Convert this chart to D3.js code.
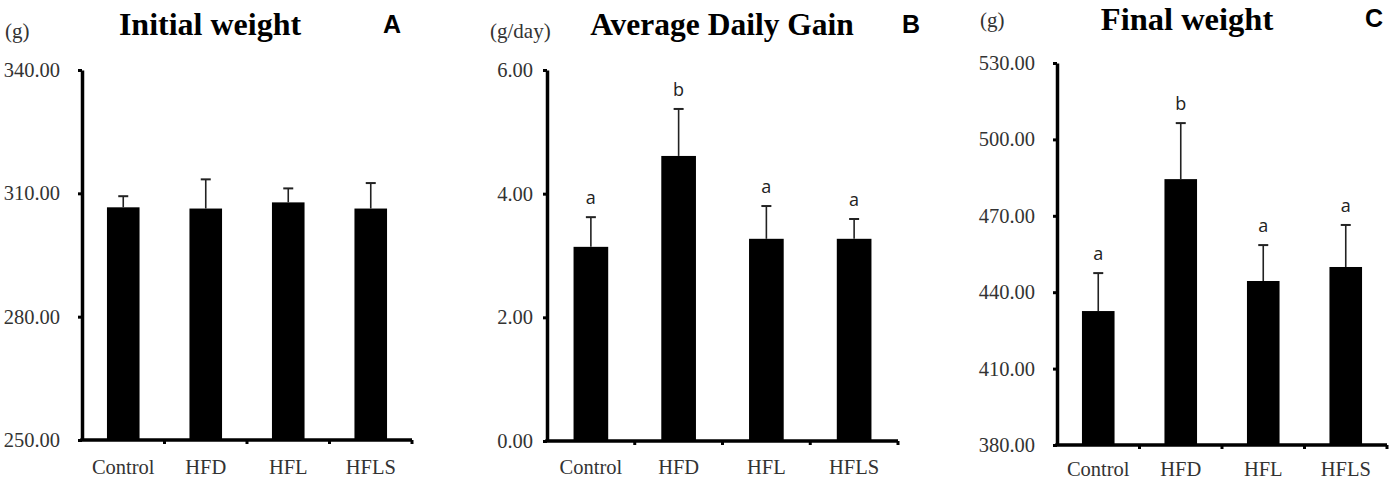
<!DOCTYPE html>
<html>
<head>
<meta charset="utf-8">
<script src="https://cdn.jsdelivr.net/npm/d3@7"></script>
<style>
	body { margin: 0; background: #fff; }
	svg { display: block; }
	.tick text { font-family: "Liberation Serif", "Times New Roman", serif; }
</style>
</head>
<body>
<div id="chart"></div>
<script>
// groups on the x axis
var categories = ["Control", "HFD", "HFL", "HFLS"];

// A: initial weight (g)
var initialMean = [306.6, 306.3, 307.8, 306.3];
var initialErr = [2.7, 7.1, 3.4, 6.2];
var initialTicks = [250, 280, 310, 340];
var initialLetters = ["", "", "", ""];

// B: average daily gain (g/day)
var adgMean = [3.14, 4.61, 3.27, 3.27];
var adgErr = [0.48, 0.76, 0.53, 0.32];
var adgTicks = [0, 2, 4, 6];
var adgLetters = ["a", "b", "a", "a"];

// C: final weight (g)
var finalMean = [432.6, 484.4, 444.4, 449.9];
var finalErr = [14.9, 22.0, 14.1, 16.5];
var finalTicks = [380, 410, 440, 470, 500, 530];
var finalLetters = ["a", "b", "a", "a"];

var width = 1395, height = 481;

var svg = d3.select("#chart").append("svg")
	.attr("width", width)
	.attr("height", height);

// one entry per panel; layout kept apart from the data
var panels = [
	{
		title: "Initial weight", unit: "(g)", tag: "A",
		mean: initialMean, err: initialErr, ticks: initialTicks, letters: initialLetters,
		x0: 82, x1: 412, y0: 70, y1: 440, pad: 22,
		titleX: 210, titleY: 35, titleSize: 32,
		unitX: 5, unitY: 38, tagX: 383, tagY: 33, catY: 473
	},
	{
		title: "Average Daily Gain", unit: "(g/day)", tag: "B",
		mean: adgMean, err: adgErr, ticks: adgTicks, letters: adgLetters,
		x0: 547, x1: 898, y0: 70, y1: 441, pad: 14,
		titleX: 722, titleY: 35, titleSize: 31.5,
		unitX: 490, unitY: 38, tagX: 902, tagY: 33, catY: 473
	},
	{
		title: "Final weight", unit: "(g)", tag: "C",
		mean: finalMean, err: finalErr, ticks: finalTicks, letters: finalLetters,
		x0: 1057, x1: 1387, y0: 63, y1: 445, pad: 22,
		titleX: 1187, titleY: 30, titleSize: 32.5,
		unitX: 980, unitY: 27, tagX: 1365, tagY: 27, catY: 475
	}
];

panels.forEach(drawPanel);

function drawPanel(p) {
	var g = svg.append("g");

	var x = d3.scaleBand()
		.domain(categories)
		.range([p.x0, p.x1])
		.padding(0);
	var y = d3.scaleLinear()
		.domain(d3.extent(p.ticks))
		.range([p.y1, p.y0]);

	var bw = x.bandwidth() * 0.395;
	var data = categories.map(function (c, i) {
		return { cat: c, mean: p.mean[i], err: p.err[i], letter: p.letters[i] };
	});

	// bars
	g.selectAll("rect.bar")
		.data(data).enter().append("rect")
		.attr("class", "bar")
		.attr("x", function (d) { return x(d.cat) + x.bandwidth() / 2 - bw / 2; })
		.attr("width", bw)
		.attr("y", function (d) { return y(d.mean); })
		.attr("height", function (d) { return y(y.domain()[0]) - y(d.mean); })
		.attr("fill", "#000");

	// error bars (upper only)
	var eb = g.selectAll("g.err")
		.data(data).enter().append("g")
		.attr("class", "err");
	eb.append("line")
		.attr("x1", function (d) { return x(d.cat) + x.bandwidth() / 2; })
		.attr("x2", function (d) { return x(d.cat) + x.bandwidth() / 2; })
		.attr("y1", function (d) { return y(d.mean); })
		.attr("y2", function (d) { return y(d.mean + d.err); })
		.attr("stroke", "#222")
		.attr("stroke-width", 1.6);
	eb.append("line")
		.attr("x1", function (d) { return x(d.cat) + x.bandwidth() / 2 - 5; })
		.attr("x2", function (d) { return x(d.cat) + x.bandwidth() / 2 + 5; })
		.attr("y1", function (d) { return y(d.mean + d.err); })
		.attr("y2", function (d) { return y(d.mean + d.err); })
		.attr("stroke", "#222")
		.attr("stroke-width", 2);

	// significance letters
	g.selectAll("text.sig")
		.data(data).enter().append("text")
		.attr("class", "sig")
		.attr("x", function (d) { return x(d.cat) + x.bandwidth() / 2; })
		.attr("y", function (d) { return y(d.mean + d.err) - 13; })
		.attr("text-anchor", "middle")
		.style("font-family", "'Open Sans', sans-serif")
		.style("font-size", "18px")
		.attr("fill", "#222")
		.text(function (d) { return d.letter; });

	// y axis
	var yAxis = g.append("g")
		.attr("transform", "translate(" + p.x0 + ",0)")
		.call(d3.axisLeft(y)
			.tickValues(p.ticks)
			.tickFormat(d3.format(".2f"))
			.tickSize(4)
			.tickSizeOuter(0)
			.tickPadding(p.pad - 4));
	yAxis.select(".domain").attr("stroke-width", 3.5);
	yAxis.selectAll(".tick line").attr("stroke-width", 3);
	yAxis.selectAll(".tick text")
		.attr("fill", "#333")
		.style("font-size", "20.5px");

	// x axis: labels at band centres, tick marks at band edges
	var xAxis = g.append("g")
		.attr("transform", "translate(0," + p.y1 + ")")
		.call(d3.axisBottom(x).tickSize(0).tickSizeOuter(0).tickPadding(p.catY - p.y1 - 14));
	xAxis.select(".domain")
		.attr("stroke-width", 3.5)
		.attr("d", "M" + (p.x0 - 1.75) + ",0H" + p.x1);
	xAxis.selectAll(".tick text")
		.attr("fill", "#333")
		.style("font-size", "20.5px");
	xAxis.selectAll("line.edge")
		.data(categories).enter().append("line")
		.attr("class", "edge")
		.attr("x1", function (c) { return x(c) + x.bandwidth(); })
		.attr("x2", function (c) { return x(c) + x.bandwidth(); })
		.attr("y1", 0)
		.attr("y2", 4)
		.attr("stroke", "#000")
		.attr("stroke-width", 3);

	// titles
	g.append("text")
		.attr("x", p.titleX)
		.attr("y", p.titleY)
		.attr("text-anchor", "middle")
		.style("font-family", "'Liberation Serif', 'Times New Roman', serif")
		.style("font-weight", "bold")
		.style("font-size", p.titleSize + "px")
		.text(p.title);
	g.append("text")
		.attr("x", p.unitX)
		.attr("y", p.unitY)
		.style("font-family", "'Liberation Serif', 'Times New Roman', serif")
		.style("font-size", "21px")
		.attr("fill", "#333")
		.text(p.unit);
	g.append("text")
		.attr("x", p.tagX)
		.attr("y", p.tagY)
		.style("font-family", "'Liberation Sans', Arial, sans-serif")
		.style("font-weight", "bold")
		.style("font-size", "25px")
		.text(p.tag);
}
</script>
</body>
</html>
